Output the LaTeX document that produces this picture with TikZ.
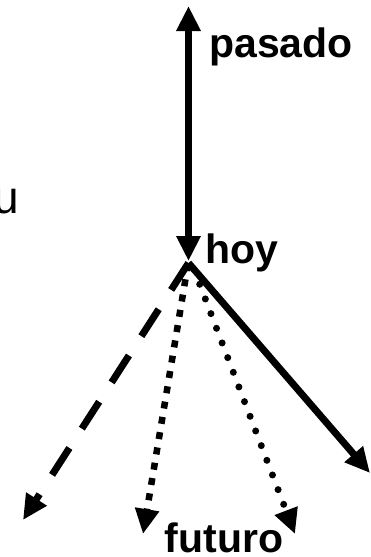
\documentclass[tikz,border=0pt]{standalone}
\usepackage{fontspec}
\setmainfont{Liberation Sans}
\usetikzlibrary{arrows.meta}
\begin{document}
\begin{tikzpicture}[x=1pt,y=-1pt,
  lbl/.style={inner sep=0pt,font=\fontsize{41}{41}\selectfont\bfseries},
  tip/.style={-{Triangle[length=25pt,width=23pt]}},
  solidline/.style={line width=7pt,tip},
  dashline/.style={line width=7pt,dash pattern=on 32pt off 23pt,tip},
  sqdots/.style={line width=6.5pt,line cap=butt,dash pattern=on 7pt off 8.5pt,tip},
  rddots/.style={line width=7pt,line cap=round,dash pattern=on 0pt off 15.7pt,dash phase=-6pt,tip}]
\useasboundingbox (0,0) rectangle (371,557);
\clip (0,0) rectangle (371,557);
% points
\coordinate (top) at (188.5,6);
\coordinate (o) at (188.5,261);
\coordinate (oa) at (188.5,263);
\coordinate (ob) at (188,264);
\coordinate (oc) at (192,264);
\coordinate (tA) at (23,520);
\coordinate (tB) at (143,534);
\coordinate (tC) at (295,534);
\coordinate (tD) at (370,473);
% labels
\node[lbl,anchor=base west] (pasado) at (209,57) {pasado};
\node[lbl,anchor=base west] (hoy) at (205,263) {hoy};
\node[lbl,anchor=base] (futuro) at (224,552) {futuro};
\node[inner sep=0pt,anchor=base east,font=\fontsize{46}{46}\selectfont] (u) at (19,213) {u};
% arrows
\draw[line width=7pt,{Triangle[length=25pt,width=23pt]}-{Triangle[length=25pt,width=23pt]}] (top) -- (o);
\draw[solidline] (oa) -- (tD);
\draw[dashline] (oa) -- (tA);
\draw[sqdots] (ob) -- (tB);
\draw[rddots] (oc) -- (tC);
\end{tikzpicture}
\end{document}
